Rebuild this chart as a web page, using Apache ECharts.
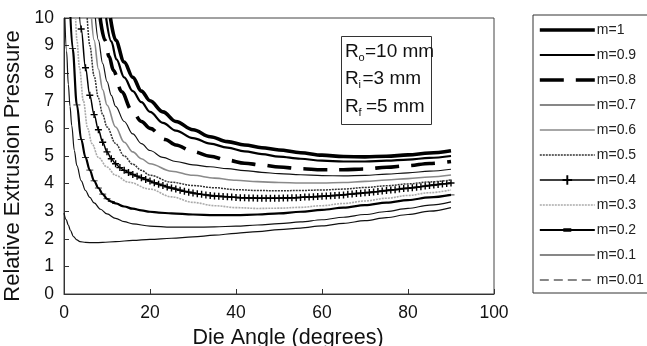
<!DOCTYPE html>
<html><head><meta charset="utf-8">
<script src="https://cdn.jsdelivr.net/npm/echarts@6/dist/echarts.min.js"></script>
<style>html,body{margin:0;padding:0;background:#fff}#c{width:647px;height:346px}</style>
</head><body><div id="c"></div>
<script>
const FONT = 'Liberation Sans, Arial, sans-serif';
const seriesNames = ['m=1','m=0.9','m=0.8','m=0.7','m=0.6','m=0.5','m=0.4','m=0.3','m=0.2','m=0.1','m=0.01'];
const xTicks = [0,20,40,60,80,100];
const yTicks = [0,1,2,3,4,5,6,7,8,9,10];

const m1 = [[10.8,10],[12,9.2],[14,8.4],[16,7.85],[18,7.35],[20,7.0],[23,6.6],[26,6.25],[30,5.95],[34,5.7],[38,5.52],[42,5.4],[46,5.3],[50,5.22],[55,5.12],[60,5.03],[65,4.98],[70,4.97],[75,4.99],[80,5.04],[85,5.11],[90,5.19]];
const m09 = [[9.8,10],[11,9.15],[12.2,8.5],[14,7.85],[16,7.35],[18,6.95],[20,6.6],[23,6.2],[26,5.92],[30,5.65],[34,5.45],[38,5.3],[42,5.17],[46,5.07],[50,4.98],[55,4.9],[60,4.83],[65,4.8],[70,4.8],[75,4.83],[80,4.87],[85,4.93],[90,5.0]];
const m08 = [[8.4,10],[9.5,9.2],[10.5,8.6],[11.5,8.1],[13.4,7.33],[15.7,6.67],[18,6.25],[20,6.0],[23.5,5.6],[26,5.4],[30,5.16],[34,4.99],[38,4.85],[42,4.74],[46,4.67],[50,4.6],[55,4.54],[60,4.5],[65,4.5],[70,4.53],[75,4.59],[80,4.65],[85,4.73],[90,4.8]];
const m07 = [[7.3,10],[8,9.2],[9,8.35],[10,7.7],[11,7.2],[12,6.8],[14,6.25],[16,5.8],[18,5.45],[20,5.2],[23,4.95],[26,4.8],[30,4.68],[34,4.61],[38,4.54],[42,4.47],[46,4.41],[50,4.36],[55,4.32],[60,4.29],[65,4.28],[70,4.3],[75,4.34],[80,4.39],[85,4.45],[90,4.52]];
const m06 = [[6.4,10],[7,9.2],[8,8.15],[9,7.4],[10,6.85],[12,6.05],[14,5.5],[16,5.15],[18,4.9],[20,4.72],[25,4.45],[30,4.3],[35,4.2],[40,4.12],[45,4.07],[50,4.04],[55,4.02],[60,4.02],[65,4.04],[70,4.08],[75,4.13],[80,4.18],[85,4.24],[90,4.31]];
const m05 = [[5.4,10],[6,9.0],[7,7.9],[8,7.1],[9,6.5],[10,6.05],[12,5.45],[14,5.0],[16,4.7],[18,4.48],[20,4.3],[25,4.05],[30,3.93],[35,3.85],[40,3.78],[45,3.75],[50,3.74],[55,3.75],[60,3.77],[65,3.8],[70,3.86],[75,3.92],[80,3.99],[85,4.06],[90,4.13]];
const m04 = [[3,11.8],[4,9.6],[5,8.2],[6,7.2],[7,6.5],[8,5.95],[9,5.5],[10,5.15],[11,4.9],[12,4.72],[13,4.58],[14,4.48],[15,4.4],[16,4.33],[17,4.27],[18,4.21],[19,4.15],[20,4.09],[21,4.03],[22,3.98],[23,3.93],[24,3.88],[25,3.84],[26,3.8],[27,3.76],[28,3.72],[29,3.69],[30,3.66],[31,3.63],[32,3.61],[33,3.59],[34,3.57],[35,3.55],[36,3.54],[37,3.53],[38,3.52],[39,3.51],[40,3.5],[41,3.49],[42,3.49],[43,3.48],[44,3.48],[45,3.47],[46,3.47],[47,3.47],[48,3.47],[49,3.47],[50,3.47],[51,3.48],[52,3.48],[53,3.49],[54,3.49],[55,3.5],[56,3.51],[57,3.51],[58,3.52],[59,3.53],[60,3.54],[61,3.55],[62,3.56],[63,3.57],[64,3.58],[65,3.59],[66,3.61],[67,3.62],[68,3.64],[69,3.65],[70,3.67],[71,3.68],[72,3.7],[73,3.71],[74,3.73],[75,3.75],[76,3.77],[77,3.78],[78,3.8],[79,3.82],[80,3.83],[81,3.85],[82,3.87],[83,3.89],[84,3.91],[85,3.93],[86,3.95],[87,3.97],[88,3.99],[89,4.0],[90,4.02]];
const m03 = [[2.7,10],[3,9.2],[3.6,8.2],[4.5,7.0],[5.5,6.0],[6.5,5.45],[8,4.95],[10,4.6],[12,4.3],[15,4.05],[20,3.8],[25,3.52],[30,3.32],[35,3.2],[40,3.13],[45,3.1],[50,3.11],[55,3.14],[60,3.2],[65,3.28],[70,3.37],[75,3.47],[80,3.57],[85,3.67],[90,3.77]];
const m02 = [[1,12],[2,8.9],[3,6.85],[4,5.6],[5,4.95],[6,4.49],[7,4.1],[8,3.84],[9,3.62],[10,3.45],[11,3.35],[12,3.28],[14,3.17],[16,3.09],[18,3.03],[20,2.98],[22,2.95],[25,2.92],[30,2.88],[35,2.86],[40,2.86],[45,2.88],[50,2.92],[55,2.98],[60,3.05],[65,3.13],[70,3.22],[75,3.31],[80,3.4],[85,3.5],[90,3.59]];
const m01 = [[0.2,10],[0.6,8.8],[1,7.6],[1.4,6.8],[1.8,6.1],[2.4,5.2],[3,4.65],[4,4.1],[5,3.75],[6,3.5],[7,3.3],[8.5,3.07],[10,2.9],[12,2.74],[14,2.62],[16,2.54],[20,2.46],[25,2.42],[30,2.42],[35,2.43],[40,2.46],[45,2.5],[50,2.55],[55,2.61],[60,2.69],[65,2.78],[70,2.88],[75,2.99],[80,3.1],[85,3.22],[90,3.34]];
const m001 = [[0,2.93],[0.5,2.7],[1,2.5],[1.5,2.3],[2.2,2.08],[3,1.96],[3.7,1.9],[5,1.87],[7,1.86],[9,1.87],[12,1.9],[16,1.94],[20,1.98],[25,2.02],[30,2.07],[35,2.13],[40,2.2],[45,2.26],[50,2.33],[55,2.39],[60,2.47],[65,2.56],[70,2.66],[75,2.77],[80,2.88],[85,3.0],[90,3.13]];

const seriesData = [m1,m09,m08,m07,m06,m05,m04,m03,m02,m01,m001];
const PLUS = 'path://M4,0H6V4H10V6H6V10H4V6H0V4H4Z';
const DASH = 'path://M0,0H10V3.2H0Z';
const DASH_LEGEND = 'path://M0,4.9H23.5V4.2H31.5V4.9H55V7.1H31.5V7.8H23.5V7.1H0Z';
const styles = [
  {color:'#000', width:3.6, type:'solid'},
  {color:'#000', width:2.2, type:'solid'},
  {color:'#000', width:3.6, type:[24,12]},
  {color:'#111', width:1.2, type:'solid'},
  {color:'#8a8a8a', width:1.6, type:'solid'},
  {color:'#333', width:1.5, type:[2,1]},
  {color:'#000', width:1.5, type:'solid', symbol:PLUS, symbolSize:[7,7]},
  {color:'#aaa', width:1.6, type:[2,1]},
  {color:'#000', width:2.2, type:'solid', symbol:DASH, symbolSize:[7,2.4], legendIcon:DASH_LEGEND},
  {color:'#111', width:1.2, type:'solid'},
  {color:'#111', width:1.2, type:'solid', legendType:[9,5]}
];

const series = seriesNames.map((n,i)=>{
  const s = styles[i];
  return {
    name:n, type:'line', data:seriesData[i], smooth:0.35, smoothMonotone:'x',
    symbol: s.symbol || 'none', symbolSize: s.symbolSize || 0, showSymbol: !!s.symbol, showAllSymbol:true,
    symbolKeepAspect:true,
    itemStyle:{color:s.color}, lineStyle:{color:s.color, width:s.width, type:s.type},
    clip:true, z: 10 - i*0.1, silent:true
  };
});

const legendData = seriesNames.map((n,i)=>{
  const s = styles[i];
  const d = {name:n};
  if (s.legendIcon) {
    d.icon = s.legendIcon;
    d.itemStyle = {color:s.color, borderWidth:0};
    return d;
  }
  d.lineStyle = {type:s.legendType || s.type, width:s.width, color:s.color};
  if (!s.symbol) d.itemStyle = {opacity:0, color:'rgba(0,0,0,0)', borderWidth:0};
  else d.itemStyle = {color:s.color, borderWidth:0};
  return d;
});

const chart = echarts.init(document.getElementById('c'), null, {renderer:'canvas'});
chart.setOption({
  animation:false,
  backgroundColor:'#fff',
  grid:{left:64, right:153, top:18, bottom:52, show:true, borderColor:'#444', borderWidth:1, backgroundColor:'transparent', containLabel:false, outerBoundsMode:'none'},
  xAxis:{type:'value', min:xTicks[0], max:xTicks[xTicks.length-1], interval:20,
    name:'Die Angle (degrees)', nameLocation:'middle', nameGap:28,
    nameTextStyle:{fontFamily:FONT, fontSize:21.5, color:'#111', padding:[0,0,0,18]},
    axisLine:{show:true, lineStyle:{color:'#333', width:1}},
    axisTick:{show:true, inside:true, length:5, lineStyle:{color:'#333'}},
    axisLabel:{fontFamily:FONT, fontSize:17.5, color:'#111', margin:10},
    splitLine:{show:false}},
  yAxis:{type:'value', min:yTicks[0], max:yTicks[yTicks.length-1], interval:1,
    name:'Relative Extrusion Pressure', nameLocation:'middle', nameGap:31,
    nameTextStyle:{fontFamily:FONT, fontSize:22, color:'#111', padding:[0,20,0,0]},
    axisLine:{show:true, lineStyle:{color:'#333', width:1}},
    axisTick:{show:true, inside:true, length:5, lineStyle:{color:'#333'}},
    axisLabel:{fontFamily:FONT, fontSize:17.5, color:'#111', margin:10},
    splitLine:{show:false}},
  legend:{orient:'vertical', left:533, top:15,
    itemWidth:55, itemHeight:12, itemGap:11, padding:[8,4,6,5],
    borderColor:'#333', borderWidth:1, backgroundColor:'#fff',
    symbolKeepAspect:true,
    textStyle:{fontFamily:FONT, fontSize:14, color:'#222', padding:[0,0,0,-3]},
    data:legendData, selectedMode:false},
  graphic:[
    {type:'rect', shape:{x:341.5, y:36.5, width:90, height:88}, style:{fill:'#fff', stroke:'#333', lineWidth:1}, z:50},
    {type:'text', x:345, y:52, z:51, style:{text:'R', font:'19px '+FONT, fill:'#111', verticalAlign:'middle'}},
    {type:'text', x:358.5, y:58, z:51, style:{text:'o', font:'11px '+FONT, fill:'#111', verticalAlign:'middle'}},
    {type:'text', x:365, y:52, z:51, style:{text:'=10 mm', font:'19px '+FONT, fill:'#111', verticalAlign:'middle'}},
    {type:'text', x:345, y:79, z:51, style:{text:'R', font:'19px '+FONT, fill:'#111', verticalAlign:'middle'}},
    {type:'text', x:358.5, y:85, z:51, style:{text:'i', font:'11px '+FONT, fill:'#111', verticalAlign:'middle'}},
    {type:'text', x:362.5, y:79, z:51, style:{text:'=3 mm', font:'19px '+FONT, fill:'#111', verticalAlign:'middle'}},
    {type:'text', x:345, y:107, z:51, style:{text:'R', font:'19px '+FONT, fill:'#111', verticalAlign:'middle'}},
    {type:'text', x:358.5, y:113, z:51, style:{text:'f', font:'11px '+FONT, fill:'#111', verticalAlign:'middle'}},
    {type:'text', x:366, y:107, z:51, style:{text:'=5 mm', font:'19px '+FONT, fill:'#111', verticalAlign:'middle'}}
  ],
  series: series
});
</script></body></html>
